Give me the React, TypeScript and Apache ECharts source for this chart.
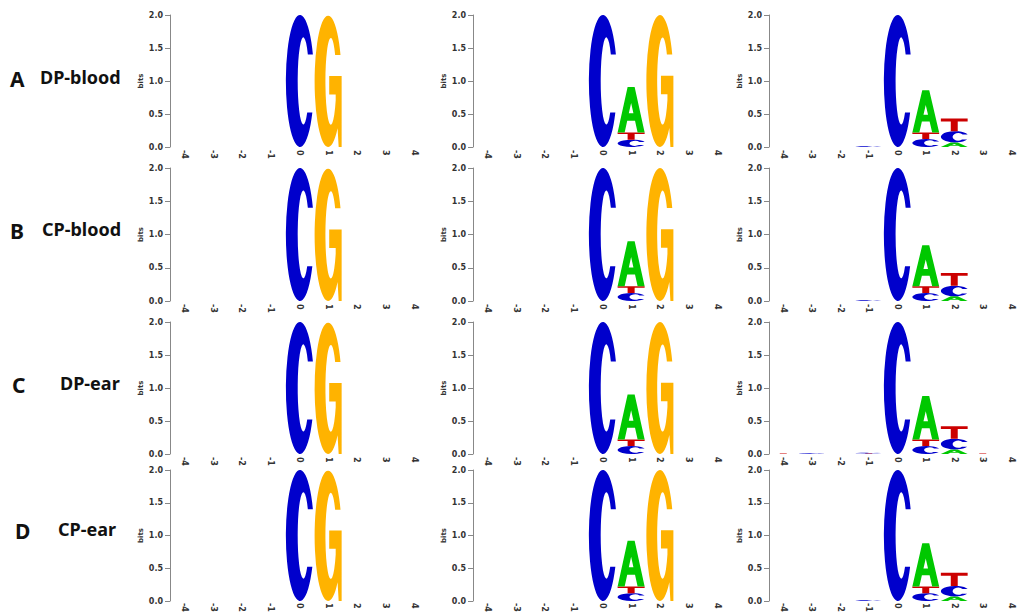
import React, { useEffect, useRef } from 'react';
import * as echarts from 'echarts';

// ---------- data ----------
const positions = ['-4', '-3', '-2', '-1', '0', '1', '2', '3', '4'];
const rowLetters = ['A', 'B', 'C', 'D'];
const rowTitles = ['DP-blood', 'CP-blood', 'DP-ear', 'CP-ear'];

// stacks: [position, base, bits] listed bottom -> top
const rowA_CG = [[0, 'C', 2.0], [1, 'G', 1.99]];
const rowA_CAG = [[0, 'C', 2.0], [1, 'C', 0.11], [1, 'T', 0.11], [1, 'A', 0.69], [2, 'G', 2.0]];
const rowA_CA = [[-1, 'C', 0.012], [0, 'C', 2.0], [1, 'C', 0.12], [1, 'T', 0.1], [1, 'A', 0.64], [2, 'A', 0.07], [2, 'C', 0.17], [2, 'T', 0.19]];

const rowB_CG = [[0, 'C', 2.0], [1, 'G', 1.99]];
const rowB_CAG = [[0, 'C', 2.0], [1, 'C', 0.12], [1, 'T', 0.1], [1, 'A', 0.68], [2, 'G', 2.0]];
const rowB_CA = [[-1, 'C', 0.012], [0, 'C', 2.0], [1, 'C', 0.12], [1, 'T', 0.1], [1, 'A', 0.62], [2, 'A', 0.07], [2, 'C', 0.16], [2, 'T', 0.19]];

const rowC_CG = [[0, 'C', 2.0], [1, 'G', 1.99]];
const rowC_CAG = [[0, 'C', 2.0], [1, 'C', 0.12], [1, 'T', 0.1], [1, 'A', 0.68], [2, 'G', 2.0]];
const rowC_CA = [[-4, 'T', 0.008], [-3, 'C', 0.01], [-1, 'T', 0.008], [-1, 'C', 0.012], [0, 'C', 2.0], [1, 'C', 0.12], [1, 'T', 0.1], [1, 'A', 0.66], [2, 'A', 0.07], [2, 'C', 0.16], [2, 'T', 0.19], [3, 'T', 0.008]];

const rowD_CG = [[0, 'C', 2.0], [1, 'G', 1.99]];
const rowD_CAG = [[0, 'C', 2.0], [1, 'C', 0.12], [1, 'T', 0.1], [1, 'A', 0.7], [2, 'G', 2.0]];
const rowD_CA = [[-1, 'C', 0.012], [0, 'C', 2.0], [1, 'C', 0.12], [1, 'T', 0.1], [1, 'A', 0.66], [2, 'A', 0.07], [2, 'C', 0.16], [2, 'T', 0.2]];

const panels = [
  [rowA_CG, rowA_CAG, rowA_CA],
  [rowB_CG, rowB_CAG, rowB_CA],
  [rowC_CG, rowC_CAG, rowC_CA],
  [rowD_CG, rowD_CAG, rowD_CA],
];

// ---------- styles ----------
const baseColors: Record<string, string> = { A: '#00C800', C: '#0000CC', G: '#FFB300', T: '#CC0000' };
const glyphs: Record<string, string> = {
  C: 'M95.8,30 A50,50 0 1 0 93.9,74 L75.7,74 A20,33 0 1 1 77.9,30 Z',
  G: 'M95.8,30 A50,50 0 1 0 85,85.7 L89,100 L100,100 L100,46 L54,46 L54,60 L78,60 L78,64.4 A20,33 0 1 1 75.9,30 Z',
  A: 'M0,100 L37,0 L63,0 L100,100 L74,100 L64.4,74 L35.6,74 L26,100 Z M41.5,58 L58.5,58 L50,35 Z',
  T: 'M0,0 L100,0 L100,22 L63,22 L63,100 L37,100 L37,22 L0,22 Z',
};

const colLefts = [170, 473, 769];
const colWidths = [258.75, 258.75, 256.5];
const rowTops = [15, 168, 322, 470];
const rowHeights = [132, 133, 132, 131];

const labelFont = 'DejaVu Sans';

function buildStacks(stacks: any[]) {
  const cum: Record<number, number> = {};
  return stacks.map(([pos, base, bits]) => {
    const y0 = cum[pos] || 0;
    const y1 = y0 + bits;
    cum[pos] = y1;
    return [pos + 4, y0, y1, base];
  });
}

export default function App() {
  const ref = useRef<HTMLDivElement>(null);
  useEffect(() => {
    if (!ref.current) return;
    const chart = echarts.init(ref.current, undefined, { renderer: 'svg' });
    const grid: any[] = [];
    const xAxis: any[] = [];
    const yAxis: any[] = [];
    const series: any[] = [];
    panels.forEach((row, r) => {
      row.forEach((stacks, c) => {
        const i = r * 3 + c;
        grid.push({
          left: colLefts[c],
          top: rowTops[r],
          width: colWidths[c],
          height: rowHeights[r],
          containLabel: false,
          outerBoundsMode: 'none',
        });
        xAxis.push({
          gridIndex: i,
          type: 'category',
          data: positions,
          boundaryGap: true,
          axisLine: { show: false },
          axisTick: { show: false },
          axisLabel: {
            interval: 0,
            rotate: -90,
            margin: r === 3 ? 2 : 3,
            fontSize: 8,
            fontWeight: 'bold',
            fontFamily: labelFont,
            color: '#333',
          },
        });
        yAxis.push({
          gridIndex: i,
          type: 'value',
          min: 0,
          max: 2,
          interval: 0.5,
          name: 'bits',
          nameLocation: 'middle',
          nameGap: 25,
          nameTextStyle: { fontSize: 7, fontWeight: 'bold', fontFamily: labelFont, color: '#333' },
          axisLine: { show: true, lineStyle: { color: '#888', width: 1 } },
          axisTick: { show: true, length: 5, lineStyle: { color: '#888' } },
          splitLine: { show: false },
          axisLabel: {
            formatter: (v: number) => v.toFixed(1),
            margin: 7,
            fontSize: 8,
            fontWeight: 'bold',
            fontFamily: labelFont,
            color: '#333',
          },
        });
        series.push({
          type: 'custom',
          xAxisIndex: i,
          yAxisIndex: i,
          silent: true,
          clip: false,
          encode: { x: 0, y: [1, 2] },
          data: buildStacks(stacks),
          renderItem: (params: any, api: any) => {
            const x = api.value(0);
            const y0 = api.value(1);
            const y1 = api.value(2);
            const base = stacks[params.dataIndex][1] as string;
            const p0 = api.coord([x, y0]);
            const p1 = api.coord([x, y1]);
            const w = api.size([1, 0])[0] * 0.94;
            const h = Math.max(p0[1] - p1[1], 0.3);
            return {
              type: 'path',
              shape: {
                pathData: glyphs[base],
                x: p0[0] - w / 2,
                y: p0[1] - h,
                width: w,
                height: h,
                layout: 'cover',
              },
              style: { fill: baseColors[base] },
            };
          },
        });
      });
    });

    const graphic: any[] = [];
    const letterX = [10, 10, 12, 15];
    const titleX = [40, 42, 60, 58];
    const rowMid = [80, 232, 386, 532];
    rowLetters.forEach((l, r) => {
      graphic.push({
        type: 'text',
        left: letterX[r],
        top: rowMid[r] - 12,
        style: { text: l, font: 'bold 21px "Noto Sans"', fill: '#111' },
      });
      graphic.push({
        type: 'text',
        left: titleX[r],
        top: rowMid[r] - 12,
        style: { text: rowTitles[r], font: 'bold 18px "Noto Sans"', fill: '#111' },
      });
    });

    chart.setOption({
      animation: false,
      backgroundColor: '#ffffff',
      grid,
      xAxis,
      yAxis,
      series,
      graphic,
    });
    return () => chart.dispose();
  }, []);
  return <div ref={ref} style={{ position: 'fixed', left: 0, top: 0, width: 1017, height: 614 }} />;
}
